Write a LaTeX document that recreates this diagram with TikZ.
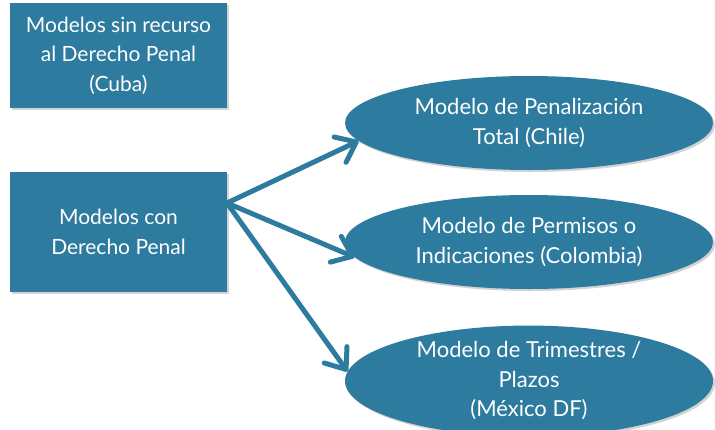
\documentclass[tikz,border=0pt]{standalone}
\usepackage{fontspec}
\setmainfont{Lato}
\usetikzlibrary{arrows.meta}
\usetikzlibrary{shapes.geometric}
\usetikzlibrary{shadows}
\definecolor{modblue}{RGB}{45,123,159}

\begin{document}
\begin{tikzpicture}[x = 1pt, y = -1pt,
	modshape/.style={fill=modblue, text=white, align=center, inner sep=0pt, font=\fontsize{21}{29.5}\selectfont, drop shadow={shadow xshift=2pt, shadow yshift=-2pt, opacity=0.35}},
	modbox/.style={modshape, rectangle, minimum width=217pt},
	modoval/.style={modshape, ellipse, minimum width=368pt, minimum height=94pt, font=\fontsize{22}{29.5}\selectfont},
	modarrow/.style={draw=modblue, line width=5pt, line cap=round, -{Straight Barb[length=18pt, width=28pt, line cap=round, line join=round]}, preaction={draw=black, opacity=0.25, transform canvas={shift={(1.5pt,-1.5pt)}}}}]
	
	\useasboundingbox (0,0) rectangle (715,429);
	
	\node[modbox, minimum height=105pt] (sin) at (118.5,55.5) {Modelos sin recurso\\al Derecho Penal\\(Cuba)};
	\node[modbox, minimum height=120pt] (con) at (118.5,232) {Modelos con\\Derecho Penal};
	
	\node[modoval] (pen) at (529,123) {Modelo de Penalización\\Total (Chile)};
	\node[modoval] (perm) at (529,242) {Modelo de Permisos o\\Indicaciones (Colombia)};
	\node[modoval] (plaz) at (529,381) {Modelo de Trimestres /\\Plazos\\(México DF)};
	
	\coordinate (hub) at (227,203);
	
	\draw[modarrow] (hub) -- (pen.186);
	\draw[modarrow] (hub) -- (perm.185);
	\draw[modarrow] (hub) -- (plaz.177);
	
\end{tikzpicture}
\end{document}
